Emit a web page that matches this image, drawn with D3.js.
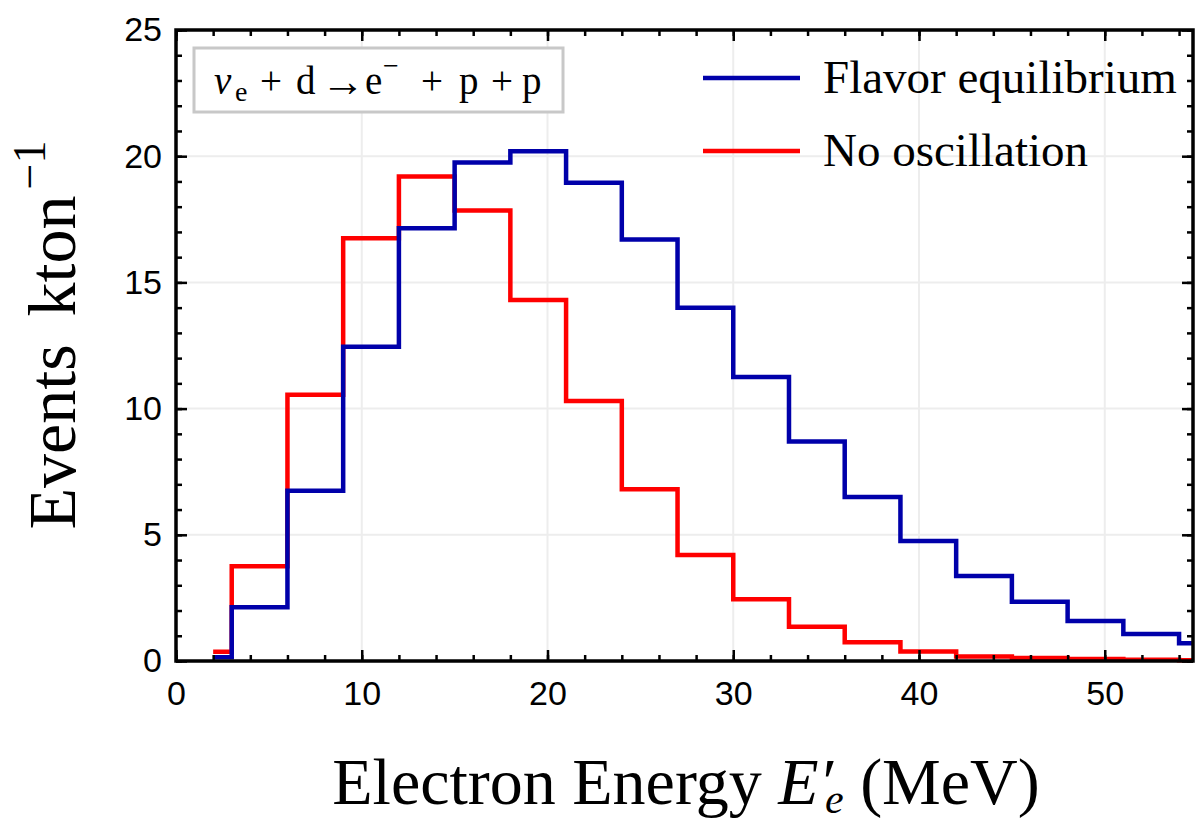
<!DOCTYPE html>
<html>
<head>
<meta charset="utf-8">
<script src="https://cdn.jsdelivr.net/npm/d3@7"></script>
<style>
  body { margin: 0; background: #fff; }
  svg { display: block; }
</style>
</head>
<body>
<div id="chart"></div>
<script>
// histogram bin edges (MeV)
var binEdges = [2, 3, 6, 9, 12, 15, 18, 21, 24, 27, 30, 33, 36, 39, 42, 45, 48, 51, 54, 57];
// Flavor equilibrium (blue)
var flavorEq = [0.15, 2.13, 6.75, 12.45, 17.15, 19.75, 20.2, 18.95, 16.7, 14.0, 11.25, 8.7, 6.5, 4.75, 3.37, 2.35, 1.58, 1.07, 0.7];
// No oscillation (red)
var noOsc = [0.37, 3.75, 10.55, 16.75, 19.2, 17.85, 14.3, 10.3, 6.8, 4.2, 2.45, 1.36, 0.74, 0.38, 0.18, 0.12, 0.08, 0.05, 0.03];

var xTicks = [0, 10, 20, 30, 40, 50];
var yTicks = [0, 5, 10, 15, 20, 25];

var svgWidth = 1195, svgHeight = 822;
var margin = { top: 30, right: 2, bottom: 161, left: 176 };
var width = svgWidth - margin.left - margin.right;
var height = svgHeight - margin.top - margin.bottom;

var svg = d3.select("#chart").append("svg")
    .attr("width", svgWidth)
    .attr("height", svgHeight);

var g = svg.append("g")
    .attr("transform", `translate(${margin.left}, ${margin.top})`);

var x = d3.scaleLinear().domain([0, 54.75]).range([0, width]);
var y = d3.scaleLinear().domain([0, 25]).range([height, 0]);

// grid
g.selectAll(".gx").data(xTicks.filter(d => d > 0)).enter().append("line")
    .attr("x1", d => x(d)).attr("x2", d => x(d))
    .attr("y1", 0).attr("y2", height)
    .attr("stroke", "#ededed").attr("stroke-width", 2);
g.selectAll(".gy").data(yTicks.filter(d => d > 0 && d < 25)).enter().append("line")
    .attr("x1", 0).attr("x2", width)
    .attr("y1", d => y(d)).attr("y2", d => y(d))
    .attr("stroke", "#ededed").attr("stroke-width", 2);

// clip
g.append("clipPath").attr("id", "clip").append("rect")
    .attr("x", 0).attr("y", -5).attr("width", width).attr("height", height + 10);

function stepPoints(vals) {
    var pts = vals.map((v, i) => [binEdges[i], v]);
    pts.push([binEdges[binEdges.length - 1], vals[vals.length - 1]]);
    return pts;
}
var line = d3.line()
    .x(d => x(d[0]))
    .y(d => y(d[1]))
    .curve(d3.curveStepAfter);

g.append("path").datum(stepPoints(noOsc))
    .attr("d", line).attr("fill", "none")
    .attr("stroke", "#ff0000").attr("stroke-width", 4.5)
    .attr("clip-path", "url(#clip)");
g.append("path").datum(stepPoints(flavorEq))
    .attr("d", line).attr("fill", "none")
    .attr("stroke", "#0000aa").attr("stroke-width", 4.5)
    .attr("clip-path", "url(#clip)");

// axes (ticks inside, on all four sides)
var xMinor = d3.range(0, 55, 2);
var yMinor = d3.range(0, 26, 1);

function drawAxis(axis, sel) {
    sel.call(axis);
    sel.select(".domain").remove();
    sel.selectAll(".tick line").attr("stroke", "#000").attr("stroke-width", 2.5);
}

var bottomMinor = g.append("g").attr("transform", `translate(0, ${height})`);
drawAxis(d3.axisBottom(x).tickValues(xMinor).tickSize(-6).tickFormat(""), bottomMinor);
var bottomMajor = g.append("g").attr("transform", `translate(0, ${height})`);
drawAxis(d3.axisBottom(x).tickValues(xTicks).tickSize(-11).tickPadding(20).tickFormat(d3.format("d")), bottomMajor);
bottomMajor.selectAll("text")
    .attr("font-family", "Liberation Sans, Arial, sans-serif")
    .attr("font-size", 34).attr("fill", "#000");

var topMinor = g.append("g");
drawAxis(d3.axisTop(x).tickValues(xMinor).tickSize(-6).tickFormat(""), topMinor);
var topMajor = g.append("g");
drawAxis(d3.axisTop(x).tickValues(xTicks).tickSize(-11).tickFormat(""), topMajor);

var leftMinor = g.append("g");
drawAxis(d3.axisLeft(y).tickValues(yMinor).tickSize(-6).tickFormat(""), leftMinor);
var leftMajor = g.append("g");
drawAxis(d3.axisLeft(y).tickValues(yTicks).tickSize(-11).tickPadding(14).tickFormat(d3.format("d")), leftMajor);
leftMajor.selectAll("text")
    .attr("font-family", "Liberation Sans, Arial, sans-serif")
    .attr("font-size", 34).attr("fill", "#000");

var rightMinor = g.append("g").attr("transform", `translate(${width}, 0)`);
drawAxis(d3.axisRight(y).tickValues(yMinor).tickSize(-6).tickFormat(""), rightMinor);
var rightMajor = g.append("g").attr("transform", `translate(${width}, 0)`);
drawAxis(d3.axisRight(y).tickValues(yTicks).tickSize(-11).tickFormat(""), rightMajor);

// frame
g.append("rect")
    .attr("x", 0).attr("y", 0).attr("width", width).attr("height", height)
    .attr("fill", "none").attr("stroke", "#000").attr("stroke-width", 3.5);

var serif = "Liberation Serif, Times New Roman, serif";

// reaction box
g.append("rect")
    .attr("x", 18).attr("y", 18).attr("width", 369).attr("height", 64)
    .attr("fill", "#fff").attr("stroke", "#c8c8c8").attr("stroke-width", 3);
var rxParts = [
    { t: "ν", x: 38, dy: 0, size: 39, italic: true },
    { t: "e", x: 59, dy: 7, size: 28 },
    { t: "+", x: 84, dy: 0, size: 39 },
    { t: "d", x: 120, dy: 0, size: 39 },
    { t: "→", x: 145, dy: 2, size: 44 },
    { t: "e", x: 189, dy: 0, size: 39 },
    { t: "−", x: 207, dy: -19, size: 28 },
    { t: "+", x: 245, dy: 0, size: 39 },
    { t: "p", x: 283, dy: 0, size: 39 },
    { t: "+", x: 315, dy: 0, size: 39 },
    { t: "p", x: 346, dy: 0, size: 39 }
];
g.selectAll(".rx").data(rxParts).enter().append("text")
    .attr("x", d => d.x).attr("y", d => 64 + d.dy)
    .attr("font-family", serif).attr("font-size", d => d.size)
    .attr("font-style", d => d.italic ? "italic" : "normal")
    .attr("fill", "#000")
    .text(d => d.t);

// legend
var legendItems = [
    { label: "Flavor equilibrium", color: "#0000aa", yv: 48 },
    { label: "No oscillation", color: "#ff0000", yv: 121 }
];
legendItems.forEach(function(d) {
    g.append("line")
        .attr("x1", 527).attr("x2", 624)
        .attr("y1", d.yv).attr("y2", d.yv)
        .attr("stroke", d.color).attr("stroke-width", 4.5);
    g.append("text")
        .attr("x", 647).attr("y", d.yv + 15)
        .attr("font-family", serif).attr("font-size", 47).attr("fill", "#000")
        .text(d.label);
});

// axis titles
var xt = svg.append("text")
    .attr("x", 686).attr("y", 804)
    .attr("text-anchor", "middle")
    .attr("font-family", serif).attr("font-size", 66).attr("fill", "#000");
xt.append("tspan").text("Electron Energy ");
xt.append("tspan").attr("font-style", "italic").text("E′");
xt.append("tspan").attr("font-style", "italic").attr("font-size", 42).attr("dx", -8).attr("dy", 9).text("e");
xt.append("tspan").attr("dy", -9).text(" (MeV)");

var yt = svg.append("text")
    .attr("transform", "translate(75, 335) rotate(-90)")
    .attr("text-anchor", "middle")
    .attr("font-family", serif).attr("font-size", 68).attr("fill", "#000");
yt.append("tspan").text("Events");
yt.append("tspan").attr("dx", 28).text("kton");
yt.append("tspan").attr("font-size", 46).attr("dx", 6).attr("dy", -30).text("−1");
</script>
</body>
</html>
